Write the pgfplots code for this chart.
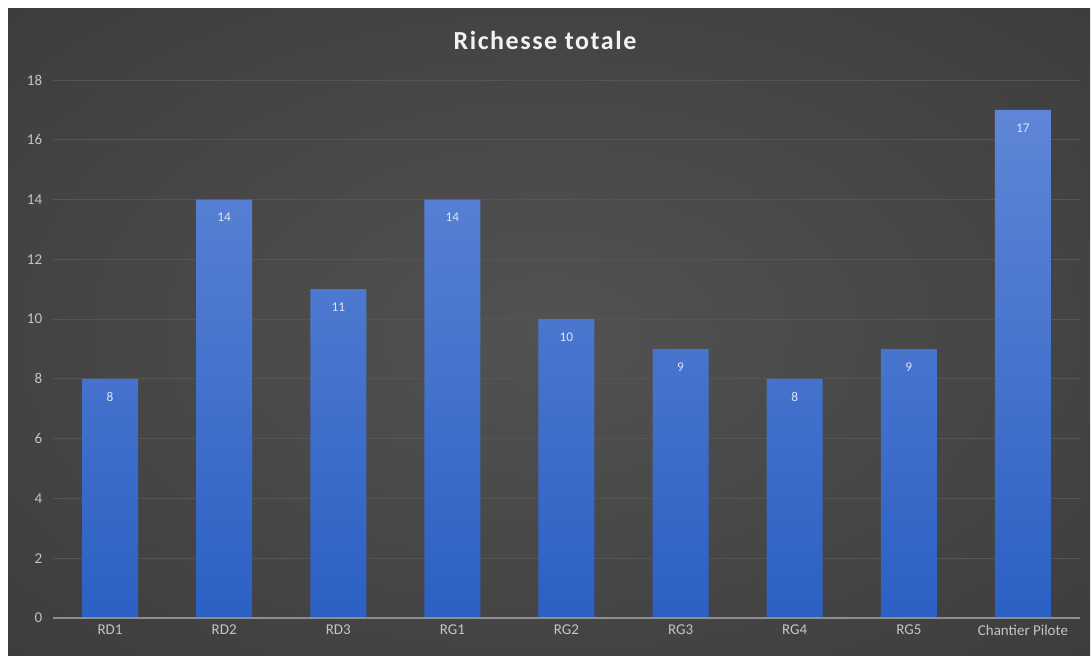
\documentclass[border=0pt]{standalone}
\usepackage{pgfplots}
\pgfplotsset{compat=1.18}
\usepackage{fontspec}
\setmainfont{Carlito}
\newfontfamily\titlefont[LetterSpace=6]{Carlito}
\definecolor{bgin}{HTML}{525252}
\definecolor{bgout}{HTML}{272727}
\definecolor{gridc}{HTML}{555555}
\definecolor{zeroc}{HTML}{8E8E8E}
\definecolor{tickc}{HTML}{C4C4C4}
\definecolor{titlec}{HTML}{F2F2F2}
\definecolor{bartop}{HTML}{5F86D6}
\definecolor{barbot}{HTML}{2C60C4}
\definecolor{labc}{HTML}{DDE4F4}
\pgfdeclareradialshading{bgshade}{\pgfpoint{0bp}{0bp}}{color(0bp)=(bgin); color(72bp)=(bgout)}
\begin{document}
\begin{tikzpicture}[x=0.6pt,y=0.6pt]
\fill[white] (0,0) rectangle (1091,655);
\shade[shading=bgshade] (8,0) rectangle (1090,646);
\begin{axis}[
  at={(31.8pt,22.2pt)}, anchor=south west,
  scale only axis, width=616.2pt, height=322.8pt,
  xmin=-0.5, xmax=8.5, ymin=0, ymax=18,
  ytick={0,2,...,18},
  xtick={0,...,8},
  xticklabels={RD1,RD2,RD3,RG1,RG2,RG3,RG4,RG5,Chantier Pilote},
  /pgf/number format/assume math mode=true,
  axis line style={draw=none},
  tick style={draw=none},
  ymajorgrids, grid style={color=gridc, line width=0.6pt},
  yticklabel style={color=tickc, font=\fontsize{9}{11}\selectfont, xshift=-3pt},
  xticklabel style={color=tickc, font=\fontsize{9}{11}\selectfont, yshift=-0.5pt},
  clip=false,
]
\addplot[ybar, bar width=33.6pt, draw=none, top color=bartop, bottom color=barbot,
  nodes near coords,
  every node near coord/.append style={anchor=center, yshift=-10.8pt, color=labc, font=\fontsize{8}{10}\selectfont}]
  coordinates {(0,8) (1,14) (2,11) (3,14) (4,10) (5,9) (6,8) (7,9) (8,17)};
\draw[zeroc, line width=1pt] (axis cs:-0.5,0) -- (axis cs:8.5,0);
\end{axis}
\node[color=titlec, font=\titlefont\bfseries\fontsize{15.6}{18}\selectfont] at (545,615) {Richesse totale};
\end{tikzpicture}
\end{document}
